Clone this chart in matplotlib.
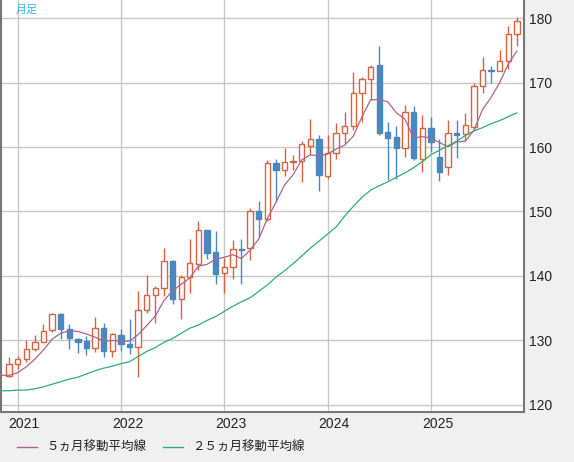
import numpy as np
import pandas as pd
import matplotlib
matplotlib.use("Agg")
import matplotlib.pyplot as plt
import matplotlib.transforms as mtransforms
from matplotlib.lines import Line2D

# monthly candles, Dec 2020 .. Nov 2025
months = pd.period_range("2020-12", "2025-11", freq="M")
opens = [124.5, 126.3, 127.1, 128.6, 129.8, 131.6, 134.1, 131.7, 130.2, 129.9,
         128.8, 132.0, 128.3, 130.8, 129.4, 129.0, 134.7, 137.1, 138.2, 142.3,
         136.4, 139.8, 141.8, 147.1, 143.7, 140.4, 141.4, 144.2, 144.4, 150.1,
         148.9, 157.5, 156.4, 157.7, 157.9, 160.2, 161.3, 155.5, 159.0, 162.1,
         163.3, 168.3, 170.5, 172.7, 162.3, 161.5, 159.9, 165.4, 158.1, 162.9,
         158.4, 156.9, 162.1, 162.0, 163.1, 169.5, 172.0, 171.8, 173.4, 177.6]
highs = [127.5, 127.6, 130.0, 130.9, 132.6, 134.2, 134.2, 132.6, 130.4, 130.7,
         133.6, 132.7, 131.1, 131.8, 133.3, 137.6, 140.2, 138.4, 144.4, 142.5,
         140.2, 145.7, 148.5, 147.2, 146.9, 142.8, 145.6, 145.8, 150.5, 151.6,
         158.0, 158.1, 159.8, 158.8, 160.9, 164.3, 161.9, 161.9, 163.7, 165.5,
         171.6, 170.9, 172.7, 175.6, 163.9, 163.3, 166.5, 166.3, 165.0, 164.7,
         161.2, 164.2, 164.2, 165.2, 169.9, 173.9, 172.5, 175.0, 178.8, 180.1]
lows = [124.3, 125.5, 126.6, 128.4, 129.7, 131.3, 130.2, 128.7, 128.0, 127.8,
        128.2, 127.5, 127.5, 128.3, 127.9, 124.4, 134.3, 132.7, 136.9, 135.6,
        133.4, 137.4, 140.9, 142.6, 138.8, 137.4, 139.6, 138.8, 142.5, 146.1,
        148.6, 151.4, 155.5, 156.5, 154.5, 158.8, 153.2, 155.1, 158.1, 160.6,
        162.7, 163.9, 167.3, 161.9, 154.9, 155.0, 158.4, 158.0, 156.2, 159.3,
        154.8, 155.6, 158.3, 161.0, 162.8, 168.4, 169.9, 171.8, 172.1, 175.6]
closes = [126.3, 127.1, 128.6, 129.8, 131.4, 134.1, 131.7, 130.3, 129.8, 128.9,
          131.9, 128.3, 131.0, 129.4, 129.0, 134.7, 137.1, 138.1, 142.3, 136.4,
          139.8, 142.0, 147.1, 143.6, 140.3, 141.4, 144.2, 144.0, 150.0, 148.9,
          157.5, 156.5, 157.7, 157.9, 160.4, 161.3, 155.7, 159.0, 162.1, 163.3,
          168.3, 170.6, 172.4, 162.2, 161.4, 159.9, 165.4, 158.3, 162.9, 160.7,
          156.2, 162.1, 161.9, 163.4, 169.5, 172.0, 171.8, 173.4, 177.6, 179.6]

# moving averages, Nov 2020 .. Nov 2025
ma_months = pd.period_range("2020-11", "2025-11", freq="M")
ma5 = [124.6, 124.6, 125.0, 125.9, 127.1, 128.5, 130.2, 131.1, 131.5, 131.4, 131.0,
       130.5, 129.9, 130.0, 129.9, 129.9, 130.9, 132.3, 133.8, 136.2, 137.7,
       138.7, 139.7, 141.5, 141.8, 142.6, 142.9, 143.3, 142.7, 144.0, 145.7,
       148.9, 151.4, 154.1, 155.7, 158.0, 158.8, 158.6, 158.9, 159.7, 160.3,
       161.7, 164.7, 167.3, 167.4, 167.0, 165.3, 164.3, 161.4, 161.6, 161.4,
       160.7, 160.0, 160.8, 160.9, 162.6, 165.8, 167.7, 170.0, 172.9, 174.9]
ma25 = [122.2, 122.2, 122.3, 122.3, 122.5, 122.8, 123.2, 123.6, 124.0, 124.3, 124.8,
        125.3, 125.7, 126.0, 126.4, 126.7, 127.5, 128.3, 128.9, 129.7, 130.3,
        131.1, 131.9, 132.4, 133.1, 133.7, 134.5, 135.3, 136.0, 136.6, 137.6,
        138.6, 139.8, 140.8, 141.9, 143.1, 144.3, 145.4, 146.5, 147.6, 149.3,
        150.8, 152.2, 153.3, 154.0, 154.6, 155.3, 156.0, 156.8, 157.7, 158.8,
        159.5, 160.2, 160.9, 161.8, 162.5, 163.0, 163.6, 164.1, 164.7, 165.3]

year_labels = ["2021", "2022", "2023", "2024", "2025"]
legend_labels = ["５ヵ月移動平均線", "２５ヵ月移動平均線"]

up_col = "#d9633f"
down_col = "#4a88c0"
ma5_col = "#b0628e"
ma25_col = "#2eae74"
jp = ["Noto Sans CJK JP", "DejaVu Sans"]

fig = plt.figure(figsize=(5.74, 4.62), dpi=100, facecolor="#f0f0f0")
ax = fig.add_axes([1 / 574, 50 / 462, 522.5 / 574, 412 / 462])
ax.set_facecolor("white")

x = np.arange(len(months))
start = months[0]
xm = np.array([(m - start).n for m in ma_months])

o = np.array(opens)
c = np.array(closes)
up = c >= o
ax.vlines(x, lows, highs, colors=np.where(up, up_col, down_col), lw=1, zorder=2)
body_lo = np.minimum(o, c)
body_h = np.maximum(np.abs(c - o), 0.15)
ax.bar(x, body_h, bottom=body_lo, width=0.62,
       facecolor=np.where(up, "white", down_col),
       edgecolor=np.where(up, up_col, down_col), lw=1, zorder=3)

ax.plot(xm, ma5, color=ma5_col, lw=0.9, zorder=4)
ax.plot(xm, ma25, color=ma25_col, lw=0.9, zorder=4)

ax.set_xlim(-0.93, 59.76)
ax.set_ylim(118.9, 182.8)

jan_idx = [i for i, m in enumerate(months) if m.month == 1]
ax.set_xticks(jan_idx)
ax.set_xticklabels([])
ax.set_yticks(range(120, 181, 10))
ax.yaxis.tick_right()
ax.tick_params(length=0, labelsize=10, pad=4, labelcolor="#222222")
for t in ax.get_yticklabels():
    t.set_family("Liberation Sans")
ax.grid(color="#c8c8c8", lw=1)
ax.set_axisbelow(True)

for s in ["left", "bottom", "right"]:
    ax.spines[s].set_color("#777777")
    ax.spines[s].set_linewidth(1.5)
ax.spines["top"].set_visible(False)

trans = mtransforms.blended_transform_factory(ax.transData, ax.transAxes)
for i, lab in zip(jan_idx, year_labels):
    ax.text(i - 1.05, -0.03, lab, transform=trans, ha="left", va="center",
            fontsize=10, family="Liberation Sans", color="#222222")

ax.text(15 / 522.5, 1 - 10 / 412, "月足", transform=ax.transAxes, ha="left",
        va="center", fontsize=8, family=jp, color="#3cb4ef")

ly = 15 / 462
for (x0, x1, tx), lab, col in zip([(16.5, 36.6, 45.8), (163, 183, 192)],
                                  legend_labels, [ma5_col, ma25_col]):
    fig.add_artist(Line2D([x0 / 574, x1 / 574], [ly, ly], color=col, lw=1))
    fig.text(tx / 574, ly, lab, ha="left", va="center", fontsize=9,
             family=jp, color="#222222")

fig.savefig("out.png", dpi=100, facecolor=fig.get_facecolor())
